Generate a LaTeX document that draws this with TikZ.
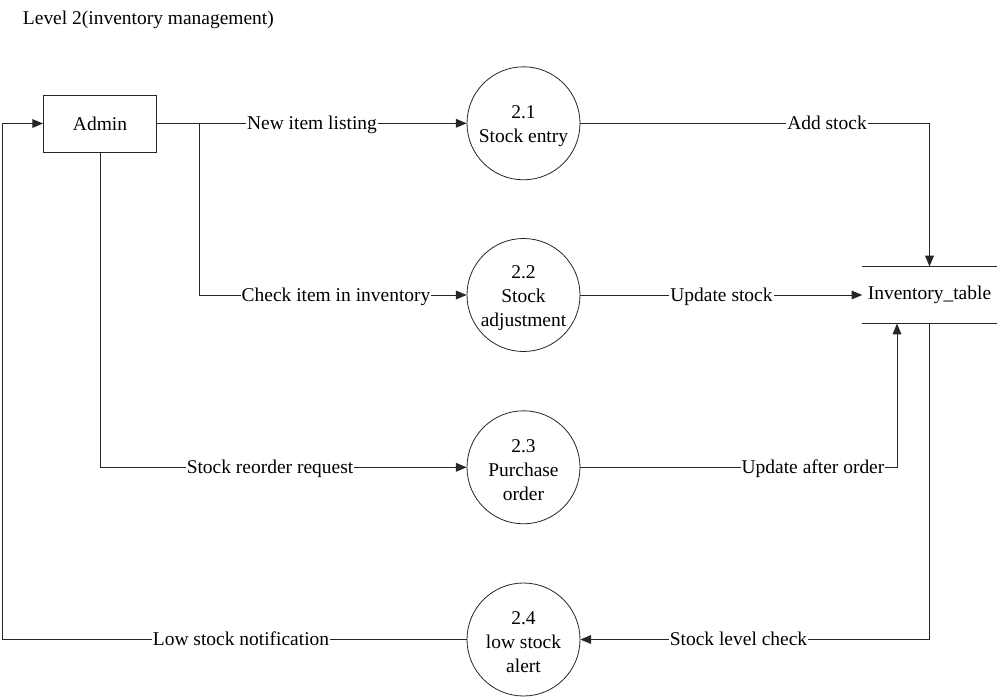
\documentclass[tikz,border=0pt]{standalone}
\usepackage{fontspec}
\setmainfont{Liberation Serif}
\usetikzlibrary{arrows.meta,calc}
\begin{document}
\begin{tikzpicture}[x=0.75pt,y=-0.75pt,
  every node/.style={font=\fontsize{14.6}{18}\selectfont},
  proc/.style={circle,draw=black!85,line width=0.6pt,minimum size=84.75pt,inner sep=0pt},
  ptext/.style={align=center,yshift=-2.25pt,inner sep=0pt},
  ent/.style={rectangle,draw=black!85,line width=0.6pt,minimum width=85pt,minimum height=42.75pt},
  store/.style={rectangle,minimum width=100.5pt,minimum height=42.5pt,inner sep=0pt},
  flow/.style={draw=black!85,line width=0.75pt,-{Triangle[length=8pt,width=6.5pt]}},
  plain/.style={draw=black!85,line width=0.75pt},
  lbl/.style={fill=white,inner xsep=0.8pt,inner ysep=1pt,anchor=base}
]
\useasboundingbox[fill=white] (0,0) rectangle (1004,697);

% title
\node[anchor=base west,inner sep=0pt] (title) at (22.7,24) {Level 2(inventory management)};

% external entity
\node[ent] (admin) at (100,123.5) {Admin};

% processes
\node[proc,label={[ptext]center:{2.1\\Stock entry}}] (p1) at (523.5,123.3) {};
\node[proc,label={[ptext]center:{2.2\\Stock\\adjustment}}] (p2) at (523.5,295) {};
\node[proc,label={[ptext]center:{2.3\\Purchase\\order}}] (p3) at (523.5,467.3) {};
\node[proc,label={[ptext]center:{2.4\\low stock\\alert}}] (p4) at (523.5,639.5) {};

% data store
\node[store] (inv) at (929.5,295) {Inventory\_table};
\draw[plain] (inv.north west) -- (inv.north east);
\draw[plain] (inv.south west) -- (inv.south east);

% branch points
\coordinate (b1) at (199.5,123.3);
\coordinate (lc) at (2.5,639.5);
\coordinate (up) at ($(inv.south)+(-32.5,0)$);

% flows
\draw[flow] (admin.east |- p1.west) -- (p1.west);
\draw[flow] (b1) |- (p2.west);
\draw[flow] (admin.south) |- (p3.west);
\draw[flow] (p1.east) -| (inv.north);
\draw[flow] (p2.east) -- (inv.west);
\draw[flow] (p3.east) -| (up);
\draw[flow] (inv.south) |- (p4.east);
\draw[flow] (p4.west) -- (lc) |- (admin.west);

% labels (baseline 6px below the line)
\node[lbl] (l1) at (312,129.3) {New item listing};
\node[lbl] (l2) at (336,301) {Check item in inventory};
\node[lbl] (l3) at (270,473.3) {Stock reorder request};
\node[lbl] (l4) at (827,129.3) {Add stock};
\node[lbl] (l5) at (721.5,301) {Update stock};
\node[lbl] (l6) at (813,473.3) {Update after order};
\node[lbl] (l7) at (738.5,645.5) {Stock level check};
\node[lbl] (l8) at (241,645.5) {Low stock notification};
\end{tikzpicture}
\end{document}
